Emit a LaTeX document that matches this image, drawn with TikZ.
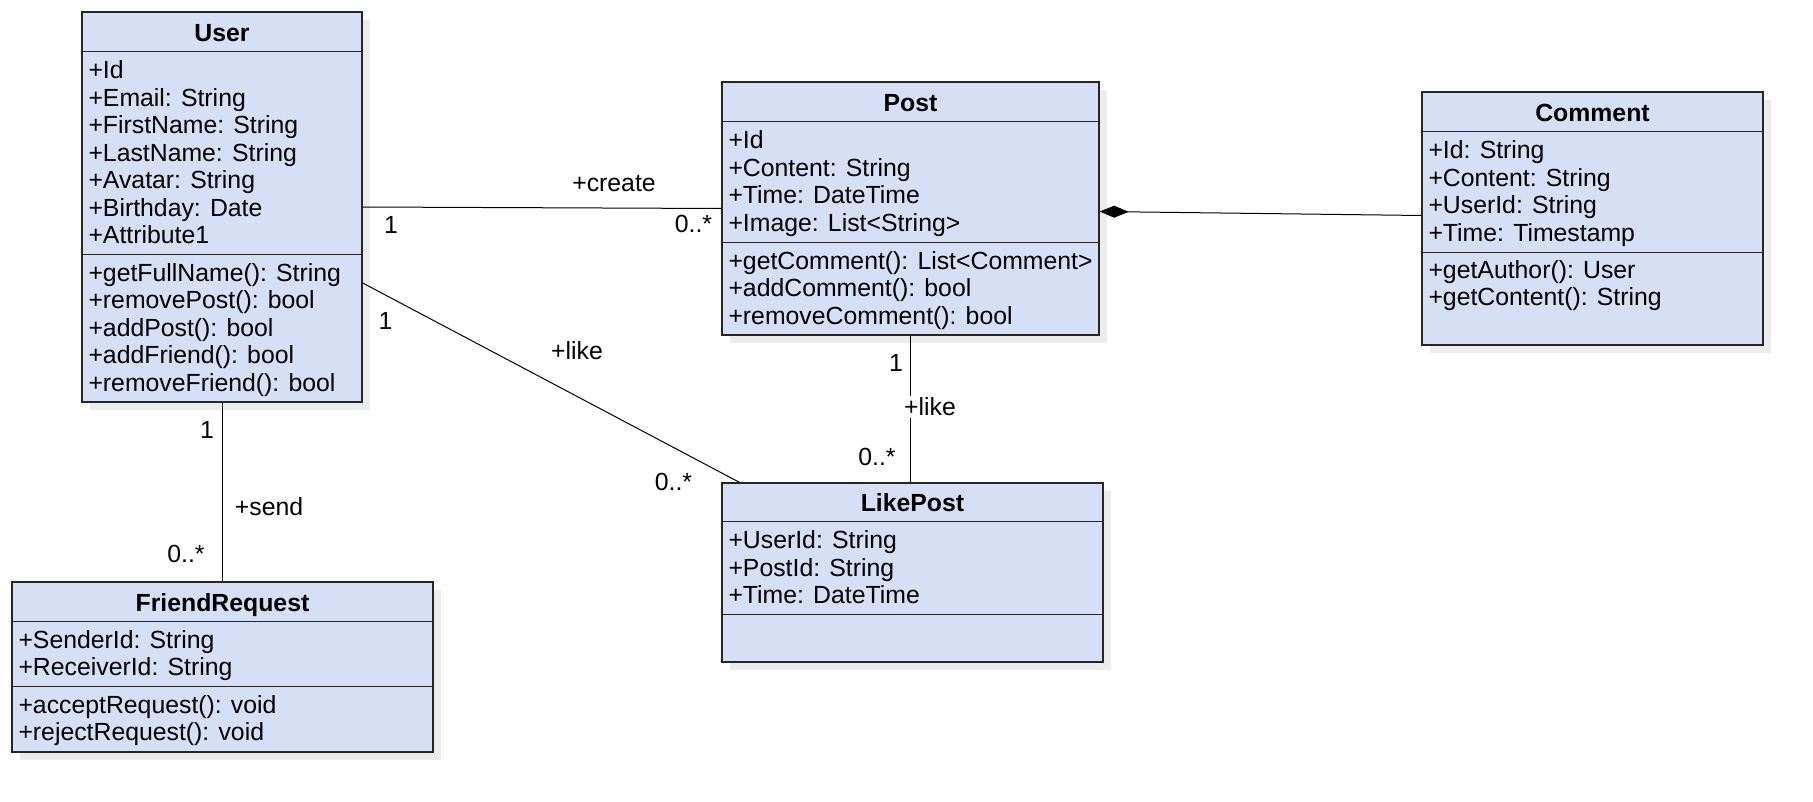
\documentclass[tikz,border=0pt]{standalone}
\usepackage{fontspec}
\setmainfont{Liberation Sans}
\usetikzlibrary{arrows.meta,shadows}

\definecolor{classfill}{RGB}{215,223,246}
\definecolor{shade}{RGB}{236,236,236}

\begin{document}
\begin{tikzpicture}[x=1pt,y=-1pt,
  every node/.style={font=\fontsize{24.8pt}{27.5pt}\selectfont},
  classbox/.style={draw=black!85,line width=1.4pt,fill=classfill,inner sep=0pt,
    drop shadow={shadow xshift=8pt,shadow yshift=-8pt,fill=shade,opacity=1}},
  sep/.style={draw=black!85,line width=1.4pt},
  title/.style={font=\fontsize{24.8pt}{27.5pt}\selectfont\bfseries,inner sep=0pt,
    text height=17.5pt,text depth=0pt},
  members/.style={align=left,inner sep=0pt,anchor=north west,execute at begin node=\strut},
  assoc/.style={line width=1pt},
  lbl/.style={inner sep=0pt}]
\useasboundingbox (0,0) rectangle (1813,802);

% classes
\node[classbox,minimum width=280pt,minimum height=390pt] (user) at (222,207) {};
\draw[sep] ([yshift=-40pt]user.north west) -- ([yshift=-40pt]user.north east);
\draw[sep] ([yshift=-243pt]user.north west) -- ([yshift=-243pt]user.north east);
\node[title] (usertitle) at ([yshift=-21pt]user.north) {User};
\node[members] (userattr) at ([xshift=7pt,yshift=-49.5pt]user.north west)
  {+Id\\+Email: String\\+FirstName: String\\+LastName: String\\+Avatar: String\\+Birthday: Date\\+Attribute1};
\node[members] (userop) at ([xshift=7pt,yshift=-252pt]user.north west)
  {+getFullName(): String\\+removePost(): bool\\+addPost(): bool\\+addFriend(): bool\\+removeFriend(): bool};

\node[classbox,minimum width=377pt,minimum height=253pt] (post) at (910.5,208.5) {};
\draw[sep] ([yshift=-40pt]post.north west) -- ([yshift=-40pt]post.north east);
\draw[sep] ([yshift=-161pt]post.north west) -- ([yshift=-161pt]post.north east);
\node[title] (posttitle) at ([yshift=-21pt]post.north) {Post};
\node[members] (postattr) at ([xshift=7pt,yshift=-49.5pt]post.north west)
  {+Id\\+Content: String\\+Time: DateTime\\+Image: List<String>};
\node[members] (postop) at ([xshift=7pt,yshift=-170pt]post.north west)
  {+getComment(): List<Comment>\\+addComment(): bool\\+removeComment(): bool};

\node[classbox,minimum width=341pt,minimum height=253pt] (comment) at (1592.5,218.5) {};
\draw[sep] ([yshift=-40pt]comment.north west) -- ([yshift=-40pt]comment.north east);
\draw[sep] ([yshift=-161pt]comment.north west) -- ([yshift=-161pt]comment.north east);
\node[title] (commenttitle) at ([yshift=-21pt]comment.north) {Comment};
\node[members] (commentattr) at ([xshift=7pt,yshift=-49.5pt]comment.north west)
  {+Id: String\\+Content: String\\+UserId: String\\+Time: Timestamp};
\node[members] (commentop) at ([xshift=7pt,yshift=-169pt]comment.north west)
  {+getAuthor(): User\\+getContent(): String};

\node[classbox,minimum width=381pt,minimum height=179pt] (likepost) at (912.5,572.5) {};
\draw[sep] ([yshift=-39pt]likepost.north west) -- ([yshift=-39pt]likepost.north east);
\draw[sep] ([yshift=-132pt]likepost.north west) -- ([yshift=-132pt]likepost.north east);
\node[title] (likeposttitle) at ([yshift=-20.5pt]likepost.north) {LikePost};
\node[members] (likepostattr) at ([xshift=7pt,yshift=-48.5pt]likepost.north west)
  {+UserId: String\\+PostId: String\\+Time: DateTime};

\node[classbox,minimum width=421pt,minimum height=170pt] (friend) at (222.5,667) {};
\draw[sep] ([yshift=-40pt]friend.north west) -- ([yshift=-40pt]friend.north east);
\draw[sep] ([yshift=-105pt]friend.north west) -- ([yshift=-105pt]friend.north east);
\node[title] (friendtitle) at ([yshift=-21pt]friend.north) {FriendRequest};
\node[members] (friendattr) at ([xshift=7pt,yshift=-49pt]friend.north west)
  {+SenderId: String\\+ReceiverId: String};
\node[members] (friendop) at ([xshift=7pt,yshift=-114pt]friend.north west)
  {+acceptRequest(): void\\+rejectRequest(): void};

% associations
\draw[assoc] (user.east) -- (post.west);
\node[lbl] (createname) at (614,184) {+create};
\node[lbl] (createone) at (391,225) {1};
\node[lbl] (createmany) at (693.5,224) {0..*};

\draw[assoc] ([yshift=-76pt]user.east) -- ([xshift=18pt]likepost.north west);
\node[lbl] (likename) at (577,351) {+like};
\node[lbl] (likeone) at (385.5,321) {1};
\node[lbl] (likemany) at (673.5,482) {0..*};

\draw[assoc] (post.south) -- (post.south |- likepost.north);
\node[lbl,fill=white,inner sep=2pt] (postlikename) at (930,407) {+like};
\node[lbl] (postlikeone) at (896,363) {1};
\node[lbl] (postlikemany) at (877,457) {0..*};

\draw[assoc] (user.south) -- (user.south |- friend.north);
\node[lbl] (sendname) at (269,507) {+send};
\node[lbl] (sendone) at (207,430) {1};
\node[lbl] (sendmany) at (186,554) {0..*};

% composition
\draw[assoc,{Diamond[length=29pt,width=12pt]}-] ([yshift=-3pt]post.east) -- ([yshift=3pt]comment.west);
\end{tikzpicture}
\end{document}
